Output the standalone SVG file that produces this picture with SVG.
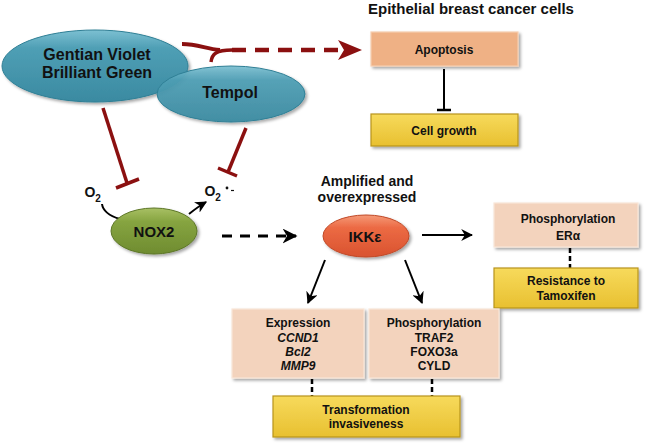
<svg xmlns="http://www.w3.org/2000/svg" width="645" height="443" viewBox="0 0 645 443">
<defs>
<linearGradient id="gTeal" x1="0" y1="0" x2="0" y2="1">
<stop offset="0" stop-color="#7cc0d2"/><stop offset="0.25" stop-color="#4f9fb5"/><stop offset="1" stop-color="#3a8aa1"/>
</linearGradient>
<linearGradient id="gGreen" x1="0" y1="0" x2="0" y2="1">
<stop offset="0" stop-color="#a8c064"/><stop offset="0.3" stop-color="#86a440"/><stop offset="1" stop-color="#6f8c30"/>
</linearGradient>
<linearGradient id="gOrange" x1="0" y1="0" x2="0" y2="1">
<stop offset="0" stop-color="#f59a78"/><stop offset="0.3" stop-color="#ec6a44"/><stop offset="1" stop-color="#d9532f"/>
</linearGradient>
<linearGradient id="gYellow" x1="0" y1="0" x2="0" y2="1">
<stop offset="0" stop-color="#f7da5c"/><stop offset="1" stop-color="#e8c030"/>
</linearGradient>
<filter id="sh" x="-20%" y="-20%" width="140%" height="150%">
<feDropShadow dx="2" dy="2" stdDeviation="1.5" flood-color="#000" flood-opacity="0.35"/>
</filter>
<marker id="ah" viewBox="0 0 10 10" refX="9" refY="5" markerWidth="6" markerHeight="6" orient="auto" markerUnits="strokeWidth">
<path d="M0,0 L10,5 L0,10 L3,5 z" fill="#000"/>
</marker>
<marker id="ahd" viewBox="0 0 10 10" refX="9" refY="5" markerWidth="5" markerHeight="5" orient="auto" markerUnits="strokeWidth">
<path d="M0,0 L10,5 L0,10 L3,5 z" fill="#000"/>
</marker>
</defs>
<style>
text{font-family:"Liberation Sans",Arial,sans-serif;font-weight:bold;fill:#111;text-anchor:middle}
.box{stroke-width:1.2;filter:url(#sh)}
.peach{fill:#f3d3bd;stroke:#f9e6d8}
.apop{fill:#efb185;stroke:#f6cdb0}
.yel{fill:url(#gYellow);stroke:#b8941c}
.conn{fill:none;stroke:#000;stroke-width:2}
.red{fill:none;stroke:#8b1010;stroke-width:3.5}
.t12{font-size:12px}
</style>

<text x="471" y="14" style="font-size:15px">Epithelial breast cancer cells</text>

<g id="connectors">
<path d="M182,44 C198,44 206,49 220,50" fill="none" stroke="#8b1010" stroke-width="4"/>
<path d="M211,62 C212,54 216,50 232,50" fill="none" stroke="#8b1010" stroke-width="3.5"/>
<line x1="232" y1="50" x2="342" y2="50" stroke="#8b1010" stroke-width="4.5" stroke-dasharray="14 9"/>
<path d="M338,40 L362,50 L338,60 L344,50 z" fill="#8b1010"/>
<line x1="444" y1="69" x2="444" y2="110" stroke="#000" stroke-width="2"/>
<line x1="437" y1="110" x2="451" y2="110" stroke="#000" stroke-width="2.5"/>
<line class="red" x1="103" y1="108" x2="127" y2="183"/>
<line class="red" x1="116" y1="188" x2="139" y2="179"/>
<line class="red" x1="246" y1="128" x2="228" y2="172"/>
<line class="red" x1="218" y1="168" x2="237" y2="176"/>
<path class="conn" d="M102,204 C103,212 110,216 120,219"/>
<path class="conn" marker-end="url(#ah)" d="M189,214 C194,210 199,206 206,202"/>
<line x1="222" y1="236" x2="296" y2="236" stroke="#000" stroke-width="3" stroke-dasharray="10 8" marker-end="url(#ahd)"/>
<line class="conn" marker-end="url(#ah)" x1="422" y1="235" x2="472" y2="235"/>
<line class="conn" marker-end="url(#ah)" x1="325" y1="260" x2="308" y2="303"/>
<line class="conn" marker-end="url(#ah)" x1="405" y1="260" x2="422" y2="303"/>
<line x1="570" y1="248" x2="570" y2="268" stroke="#000" stroke-width="2.5" stroke-dasharray="5 3"/>
<line x1="312" y1="379" x2="312" y2="396" stroke="#000" stroke-width="2.5" stroke-dasharray="5 3"/>
<line x1="432" y1="379" x2="432" y2="396" stroke="#000" stroke-width="2.5" stroke-dasharray="5 3"/>
</g>

<g id="gentian">
<ellipse cx="95" cy="66" rx="93" ry="36" fill="url(#gTeal)" stroke="#2f7f95" stroke-width="1" filter="url(#sh)"/>
<text x="97" y="60" style="font-size:16px">Gentian Violet</text>
<text x="97" y="78" style="font-size:16px">Brilliant Green</text>
</g>
<g id="tempol">
<ellipse cx="231" cy="94" rx="74" ry="28" fill="url(#gTeal)" stroke="#2f7f95" stroke-width="1" filter="url(#sh)" fill-opacity="0.93"/>
<text x="230" y="98" style="font-size:16px">Tempol</text>
</g>

<g id="apoptosis">
<rect class="box apop" x="371" y="32" width="147" height="34"/>
<text class="t12" x="444" y="54">Apoptosis</text>
</g>
<g id="cellgrowth">
<rect class="box yel" x="371" y="114" width="147" height="32"/>
<text class="t12" x="444" y="135">Cell growth</text>
</g>

<g id="o2">
<text x="90" y="197" style="font-size:14px">O</text>
<text x="98" y="202" style="font-size:10px">2</text>
</g>
<g id="superoxide">
<text x="210" y="196" style="font-size:14px">O</text>
<text x="218" y="201" style="font-size:10px">2</text>
<circle cx="227" cy="188" r="1.4" fill="#111"/>
<line x1="231" y1="190.5" x2="234" y2="190.5" stroke="#111" stroke-width="1.2"/>
</g>

<g id="nox2">
<ellipse cx="154" cy="231" rx="43" ry="23" fill="url(#gGreen)" stroke="#5c7626" stroke-width="1" filter="url(#sh)"/>
<text x="154" y="237" style="font-size:15px">NOX2</text>
</g>

<g id="ikke">
<text x="367" y="186" style="font-size:14px">Amplified and</text>
<text x="367" y="202" style="font-size:14px">overexpressed</text>
<ellipse cx="366" cy="236" rx="43" ry="21" fill="url(#gOrange)" stroke="#c04826" stroke-width="1" filter="url(#sh)"/>
<text x="365" y="242" style="font-size:15px">IKKε</text>
</g>

<g id="phos-er">
<rect class="box peach" x="494" y="203" width="144" height="44"/>
<text class="t12" x="568" y="223">Phosphorylation</text>
<text class="t12" x="568" y="240">ERα</text>
</g>
<g id="resistance">
<rect class="box yel" x="494" y="268" width="144" height="40"/>
<text class="t12" x="566" y="285">Resistance to</text>
<text class="t12" x="566" y="300">Tamoxifen</text>
</g>

<g id="expression">
<rect class="box peach" x="232" y="309" width="132" height="69"/>
<text class="t12" x="298" y="327">Expression</text>
<text class="t12" x="298" y="342" font-style="italic">CCND1</text>
<text class="t12" x="298" y="356" font-style="italic">Bcl2</text>
<text class="t12" x="298" y="370" font-style="italic">MMP9</text>
</g>
<g id="phos-traf">
<rect class="box peach" x="369" y="309" width="130" height="69"/>
<text class="t12" x="434" y="327">Phosphorylation</text>
<text class="t12" x="434" y="342">TRAF2</text>
<text class="t12" x="434" y="356">FOXO3a</text>
<text class="t12" x="434" y="370">CYLD</text>
</g>
<g id="transformation">
<rect class="box yel" x="273" y="396" width="187" height="41"/>
<text class="t12" x="366" y="414">Transformation</text>
<text class="t12" x="366" y="428">invasiveness</text>
</g>
</svg>
